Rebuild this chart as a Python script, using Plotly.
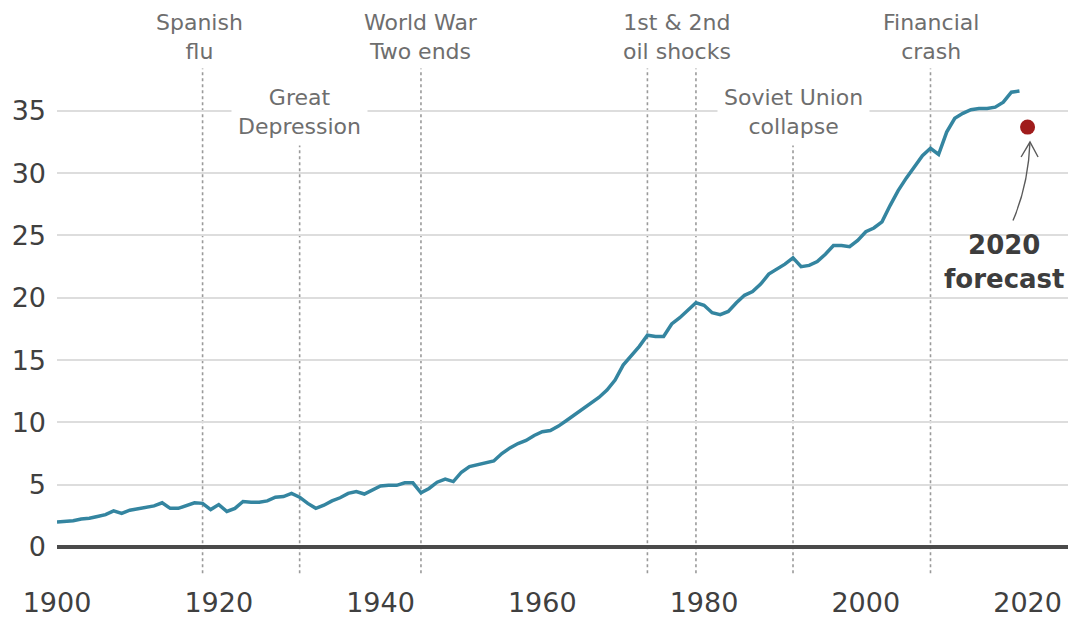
import plotly.graph_objects as go

# Global CO2 emissions, billion tonnes per year
years = list(range(1900, 2020))
emissions = [
    2.0, 2.05, 2.1, 2.25, 2.3, 2.45, 2.6, 2.9, 2.7, 2.95,        # 1900s
    3.05, 3.15, 3.3, 3.55, 3.1, 3.1, 3.35, 3.55, 3.5, 3.0,       # 1910s
    3.4, 2.85, 3.1, 3.65, 3.6, 3.6, 3.7, 4.0, 4.05, 4.3,         # 1920s
    4.0, 3.5, 3.1, 3.35, 3.7, 3.95, 4.3, 4.45, 4.25, 4.55,       # 1930s
    4.9, 4.95, 4.95, 5.15, 5.15, 4.35, 4.7, 5.2, 5.45, 5.25,     # 1940s
    6.0, 6.45, 6.6, 6.75, 6.9, 7.5, 7.95, 8.3, 8.55, 8.95,       # 1950s
    9.25, 9.35, 9.7, 10.15, 10.6, 11.1, 11.55, 12.0, 12.6, 13.4, # 1960s
    14.6, 15.3, 16.1, 17.0, 16.9, 16.9, 17.9, 18.4, 19.0, 19.6,  # 1970s
    19.4, 18.8, 18.65, 18.9, 19.6, 20.2, 20.5, 21.1, 21.9, 22.3, # 1980s
    22.7, 23.2, 22.5, 22.6, 22.9, 23.5, 24.2, 24.2, 24.1, 24.6,  # 1990s
    25.3, 25.6, 26.1, 27.4, 28.6, 29.6, 30.5, 31.4, 32.0, 31.5,  # 2000s
    33.3, 34.4, 34.8, 35.1, 35.2, 35.2, 35.3, 35.7, 36.5, 36.6,  # 2010s
]

forecast_year = 2020
forecast_value = 33.7

# Historical events: year of the marker line, label text, label centre year
event_years = [1918, 1930, 1945, 1973, 1979, 1991, 2008]
event_line_tops = [38.4, 32.5, 38.4, 38.4, 38.4, 32.5, 38.4]
label_texts = ["Spanish<br>flu", "Great<br>Depression", "World War<br>Two ends",
               "1st & 2nd<br>oil shocks", "Soviet Union<br>collapse", "Financial<br>crash"]
label_years = [1917.6, 1930, 1945, 1976.6, 1991, 2008]
label_levels = [40.9, 34.9, 40.9, 40.9, 34.9, 40.9]
label_boxed = [False, True, False, False, True, False]

y_ticks = [0, 5, 10, 15, 20, 25, 30, 35]
x_ticks = [1900, 1920, 1940, 1960, 1980, 2000, 2020]

FONT = "DejaVu Sans"
LINE_COLOR = "#3485a0"
DOT_COLOR = "#a01c1c"

fig = go.Figure()

fig.add_trace(go.Scatter(
    x=years, y=emissions, mode="lines",
    line=dict(color=LINE_COLOR, width=3.5),
    hoverinfo="skip", showlegend=False,
))

fig.add_trace(go.Scatter(
    x=[forecast_year], y=[forecast_value], mode="markers",
    marker=dict(color=DOT_COLOR, size=15),
    hoverinfo="skip", showlegend=False,
))

# Dotted event markers
for yr, top in zip(event_years, event_line_tops):
    fig.add_shape(type="line", xref="x", yref="y",
                  x0=yr, x1=yr, y0=-2.1, y1=top,
                  line=dict(color="#9a9a9a", width=1.6, dash="dot"),
                  layer="below")

# Event labels
for txt, lx, ly, boxed in zip(label_texts, label_years, label_levels, label_boxed):
    fig.add_annotation(
        x=lx, y=ly, xref="x", yref="y", text=txt, showarrow=False,
        xanchor="center", yanchor="middle", align="center",
        font=dict(family=FONT, size=22, color="#6e6e6e"),
        bgcolor="white" if boxed else "rgba(0,0,0,0)",
        borderpad=6,
    )

# Forecast label and curved arrow pointing to the forecast dot
fig.add_annotation(
    x=2017.2, y=22.9, xref="x", yref="y", text="<b>2020<br>forecast</b>",
    showarrow=False, xanchor="center", yanchor="middle", align="center",
    font=dict(family=FONT, size=26, color="#3d3d3d"),
)
tip_x, tip_y = forecast_year + 0.3, forecast_value - 1.2
tail_x, tail_y = forecast_year - 1.8, forecast_value - 7.5
ctrl_x, ctrl_y = forecast_year + 0.1, forecast_value - 4.6
fig.add_shape(type="path", xref="x", yref="y",
              path=f"M {tail_x},{tail_y} Q {ctrl_x},{ctrl_y} {tip_x},{tip_y}",
              line=dict(color="#5a5a5a", width=1.4))
fig.add_shape(type="path", xref="x", yref="y",
              path=(f"M {tip_x - 1.1},{tip_y - 1.2} L {tip_x},{tip_y} "
                    f"L {tip_x + 1.0},{tip_y - 1.2}"),
              line=dict(color="#5a5a5a", width=1.4))

fig.update_layout(
    width=1068, height=618,
    margin=dict(l=57, r=0, t=0, b=38),
    paper_bgcolor="white", plot_bgcolor="white",
    font=dict(family=FONT, color="#404040"),
    showlegend=False,
)

fig.update_xaxes(
    range=[1900, 2025], tickvals=x_ticks, ticktext=[str(v) for v in x_ticks],
    showgrid=False, zeroline=False, showline=False, ticks="",
    tickfont=dict(family=FONT, size=27, color="#404040"),
    ticklabelstandoff=4,
)
fig.update_yaxes(
    range=[-2.65, 43.9], tickvals=y_ticks, ticktext=[str(v) for v in y_ticks],
    showgrid=True, gridcolor="#dddddd", gridwidth=2,
    zeroline=True, zerolinecolor="#4a4a4a", zerolinewidth=3.5,
    showline=False, ticks="",
    tickfont=dict(family=FONT, size=27, color="#404040"),
    ticklabelstandoff=10,
)

fig.write_html("out.html")
